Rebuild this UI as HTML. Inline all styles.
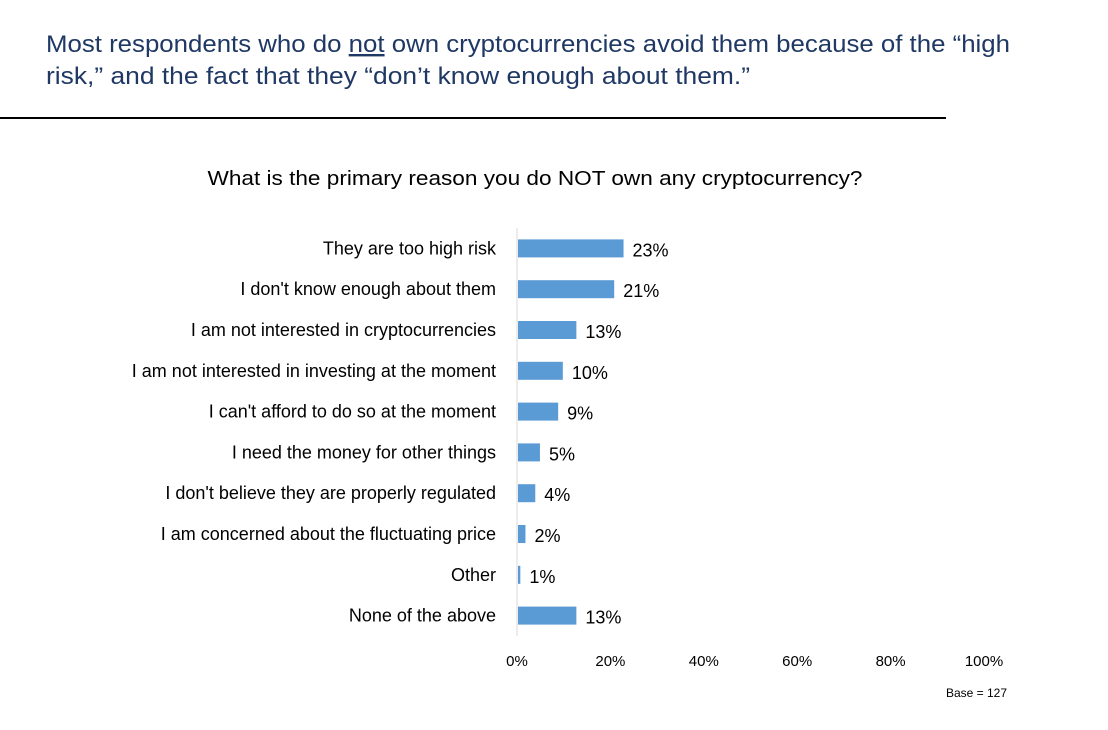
<!DOCTYPE html>
<html><head><meta charset="utf-8"><style>
html,body{margin:0;padding:0;background:#fff;}
svg{display:block;font-family:"Liberation Sans",sans-serif;}
</style></head><body>
<svg width="1108" height="730" viewBox="0 0 1108 730">
<text x="46" y="52" font-size="24" fill="#1F3864" textLength="964" lengthAdjust="spacingAndGlyphs">Most respondents who do <tspan text-decoration="underline">not</tspan> own cryptocurrencies avoid them because of the “high</text>
<text x="46" y="84" font-size="24" fill="#1F3864" textLength="704" lengthAdjust="spacingAndGlyphs">risk,” and the fact that they “don’t know enough about them.”</text>
<line x1="0" y1="118" x2="946" y2="118" stroke="#000" stroke-width="2"/>
<text x="535" y="185" font-size="20" text-anchor="middle" fill="#000" textLength="655" lengthAdjust="spacingAndGlyphs">What is the primary reason you do NOT own any cryptocurrency?</text>
<g id="plot"></g>
<text x="1007" y="697" font-size="12" text-anchor="end" fill="#000">Base = 127</text>
</svg>
<script>
const categories = ["They are too high risk","I don't know enough about them","I am not interested in cryptocurrencies","I am not interested in investing at the moment","I can't afford to do so at the moment","I need the money for other things","I don't believe they are properly regulated","I am concerned about the fluctuating price","Other","None of the above"];
const values = [22.6,20.6,12.5,9.6,8.6,4.7,3.7,1.6,0.5,12.5];
const valueLabels = ["23%","21%","13%","10%","9%","5%","4%","2%","1%","13%"];
const ticks = [0,20,40,60,80,100];
const tickLabels = ["0%","20%","40%","60%","80%","100%"];

const NS="http://www.w3.org/2000/svg";
const g=document.getElementById('plot');
const x0=517, x1=984;
const xs=v=>x0+(x1-x0)*v/100;
const yTop=228, step=40.8;
const yc=i=>yTop+step*(i+0.5);
function mk(tag,attrs){const e=document.createElementNS(NS,tag);for(const k in attrs)e.setAttribute(k,attrs[k]);g.appendChild(e);return e;}
const axis=mk('line',{x1:x0,y1:yTop,x2:x0,y2:yTop+step*categories.length,stroke:'#d9d9d9','stroke-width':1});


categories.forEach((c,i)=>{
  const t=mk('text',{x:496,y:yc(i)+6,'font-size':18,'text-anchor':'end',fill:'#000'});
  t.textContent=c;
  
  
  const b=mk('rect',{x:x0+1,y:yc(i)-9,width:Math.max(1.5,xs(values[i])-x0),height:18,fill:'#5B9BD5'});
  
  
  const v=mk('text',{x:xs(values[i])+10,y:yc(i)+8,'font-size':18,fill:'#000'});
  v.textContent=valueLabels[i];
  
  
});
ticks.forEach((tk,i)=>{
  const t=mk('text',{x:xs(tk),y:666,'font-size':15,'text-anchor':'middle',fill:'#000'});
  t.textContent=tickLabels[i];
  
  
});
</script>
</body></html>
